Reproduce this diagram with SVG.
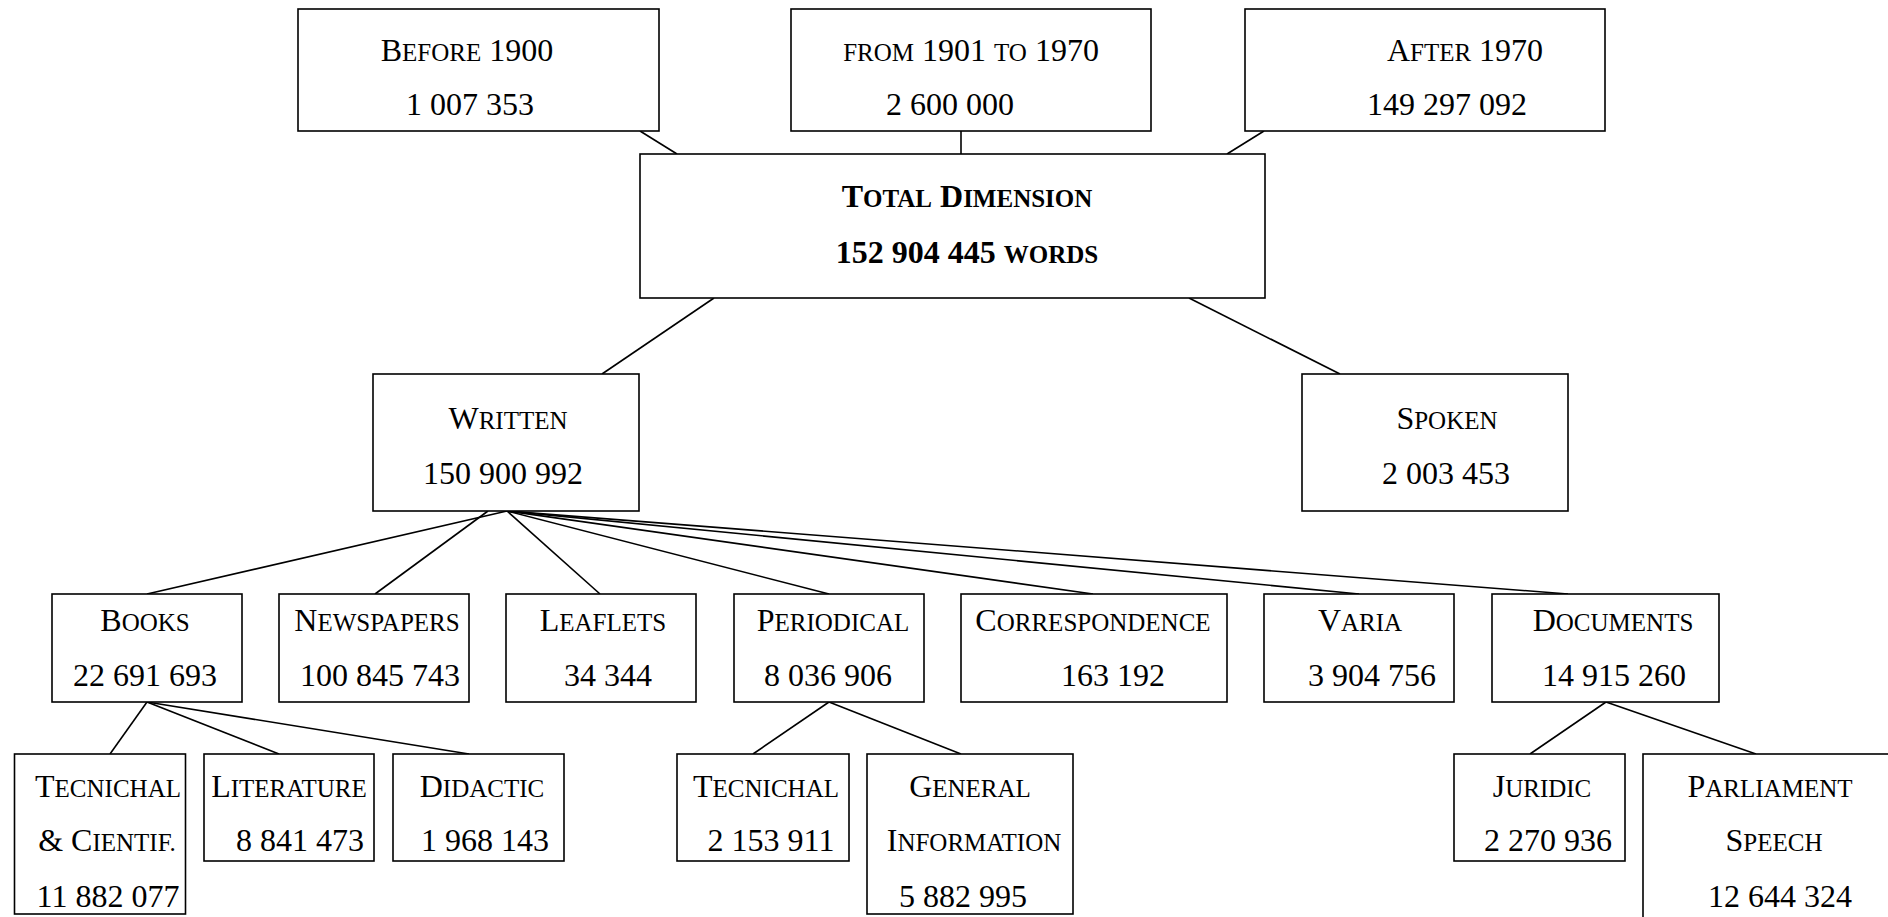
<svg xmlns="http://www.w3.org/2000/svg" width="1888" height="917" viewBox="0 0 1888 917">
<style>
.box{fill:#fff;stroke:#000;stroke-width:1.6}
.lk line{stroke:#000;stroke-width:1.6}
text{font-family:"Liberation Serif","Times New Roman",serif;font-size:32px;text-anchor:middle;fill:#000}
.sc{font-size:25px}
.b{font-weight:bold}
</style>
<rect width="1888" height="917" fill="#fff"/>
<g id="connectors" class="lk">
<line x1="640" y1="131" x2="677" y2="154"/>
<line x1="961" y1="131" x2="961" y2="154"/>
<line x1="1264" y1="131" x2="1227" y2="154"/>
<line x1="714" y1="298" x2="602" y2="374"/>
<line x1="1189" y1="298" x2="1340" y2="374"/>
<line x1="507" y1="511" x2="147" y2="594"/>
<line x1="488" y1="511" x2="375" y2="594"/>
<line x1="507" y1="511" x2="600" y2="594"/>
<line x1="507" y1="511" x2="829" y2="594"/>
<line x1="507" y1="511" x2="1093" y2="594"/>
<line x1="507" y1="511" x2="1359" y2="594"/>
<line x1="507" y1="511" x2="1568" y2="594"/>
<line x1="147" y1="702" x2="110" y2="754"/>
<line x1="147" y1="702" x2="279" y2="754"/>
<line x1="147" y1="702" x2="469" y2="754"/>
<line x1="829" y1="702" x2="753" y2="754"/>
<line x1="829" y1="702" x2="961" y2="754"/>
<line x1="1606" y1="702" x2="1530" y2="754"/>
<line x1="1606" y1="702" x2="1756" y2="754"/>
</g>
<g id="before1900">
<rect class="box" x="298" y="9" width="361" height="122"/>
<text x="467" y="61">B<tspan class="sc">EFORE</tspan> 1900</text>
<text x="470" y="115">1 007 353</text>
</g>
<g id="from1901">
<rect class="box" x="791" y="9" width="360" height="122"/>
<text x="971" y="61"><tspan class="sc">FROM</tspan> 1901 <tspan class="sc">TO</tspan> 1970</text>
<text x="950" y="115">2 600 000</text>
</g>
<g id="after1970">
<rect class="box" x="1245" y="9" width="360" height="122"/>
<text x="1465" y="61">A<tspan class="sc">FTER</tspan> 1970</text>
<text x="1447" y="115">149 297 092</text>
</g>
<g id="total">
<rect class="box" x="640" y="154" width="625" height="144"/>
<text class="b" x="967" y="207">T<tspan class="sc">OTAL</tspan> D<tspan class="sc">IMENSION</tspan></text>
<text class="b" x="967" y="263">152 904 445 <tspan class="sc">WORDS</tspan></text>
</g>
<g id="written">
<rect class="box" x="373" y="374" width="266" height="137"/>
<text x="508" y="429">W<tspan class="sc">RITTEN</tspan></text>
<text x="503" y="484">150 900 992</text>
</g>
<g id="spoken">
<rect class="box" x="1302" y="374" width="266" height="137"/>
<text x="1447" y="429">S<tspan class="sc">POKEN</tspan></text>
<text x="1446" y="484">2 003 453</text>
</g>
<g id="books">
<rect class="box" x="52" y="594" width="190" height="108"/>
<text x="145" y="631">B<tspan class="sc">OOKS</tspan></text>
<text x="145" y="686">22 691 693</text>
</g>
<g id="newspapers">
<rect class="box" x="279" y="594" width="190" height="108"/>
<text x="377" y="631">N<tspan class="sc">EWSPAPERS</tspan></text>
<text x="380" y="686">100 845 743</text>
</g>
<g id="leaflets">
<rect class="box" x="506" y="594" width="190" height="108"/>
<text x="603" y="631">L<tspan class="sc">EAFLETS</tspan></text>
<text x="608" y="686">34 344</text>
</g>
<g id="periodical">
<rect class="box" x="734" y="594" width="190" height="108"/>
<text x="833" y="631">P<tspan class="sc">ERIODICAL</tspan></text>
<text x="828" y="686">8 036 906</text>
</g>
<g id="correspondence">
<rect class="box" x="961" y="594" width="266" height="108"/>
<text x="1093" y="631">C<tspan class="sc">ORRESPONDENCE</tspan></text>
<text x="1113" y="686">163 192</text>
</g>
<g id="varia">
<rect class="box" x="1264" y="594" width="190" height="108"/>
<text x="1360" y="631">V<tspan class="sc">ARIA</tspan></text>
<text x="1372" y="686">3 904 756</text>
</g>
<g id="documents">
<rect class="box" x="1492" y="594" width="227" height="108"/>
<text x="1613" y="631">D<tspan class="sc">OCUMENTS</tspan></text>
<text x="1614" y="686">14 915 260</text>
</g>
<g id="tecnichal-cientif">
<rect class="box" x="14.5" y="754" width="171" height="160"/>
<text x="108" y="797">T<tspan class="sc">ECNICHAL</tspan></text>
<text x="107" y="851">&amp; C<tspan class="sc">IENTIF.</tspan></text>
<text x="108" y="907">11 882 077</text>
</g>
<g id="literature">
<rect class="box" x="204" y="754" width="170" height="107"/>
<text x="289" y="797">L<tspan class="sc">ITERATURE</tspan></text>
<text x="300" y="851">8 841 473</text>
</g>
<g id="didactic">
<rect class="box" x="393" y="754" width="171" height="107"/>
<text x="482" y="797">D<tspan class="sc">IDACTIC</tspan></text>
<text x="485" y="851">1 968 143</text>
</g>
<g id="tecnichal">
<rect class="box" x="677" y="754" width="172" height="107"/>
<text x="766" y="797">T<tspan class="sc">ECNICHAL</tspan></text>
<text x="771" y="851">2 153 911</text>
</g>
<g id="general-information">
<rect class="box" x="867" y="754" width="206" height="160"/>
<text x="970" y="797">G<tspan class="sc">ENERAL</tspan></text>
<text x="974" y="851">I<tspan class="sc">NFORMATION</tspan></text>
<text x="963" y="907">5 882 995</text>
</g>
<g id="juridic">
<rect class="box" x="1454" y="754" width="171" height="107"/>
<text x="1542" y="797">J<tspan class="sc">URIDIC</tspan></text>
<text x="1548" y="851">2 270 936</text>
</g>
<g id="parliament-speech">
<rect class="box" x="1643" y="754" width="260" height="180"/>
<text x="1770" y="797">P<tspan class="sc">ARLIAMENT</tspan></text>
<text x="1774" y="851">S<tspan class="sc">PEECH</tspan></text>
<text x="1780" y="907">12 644 324</text>
</g>
</svg>
